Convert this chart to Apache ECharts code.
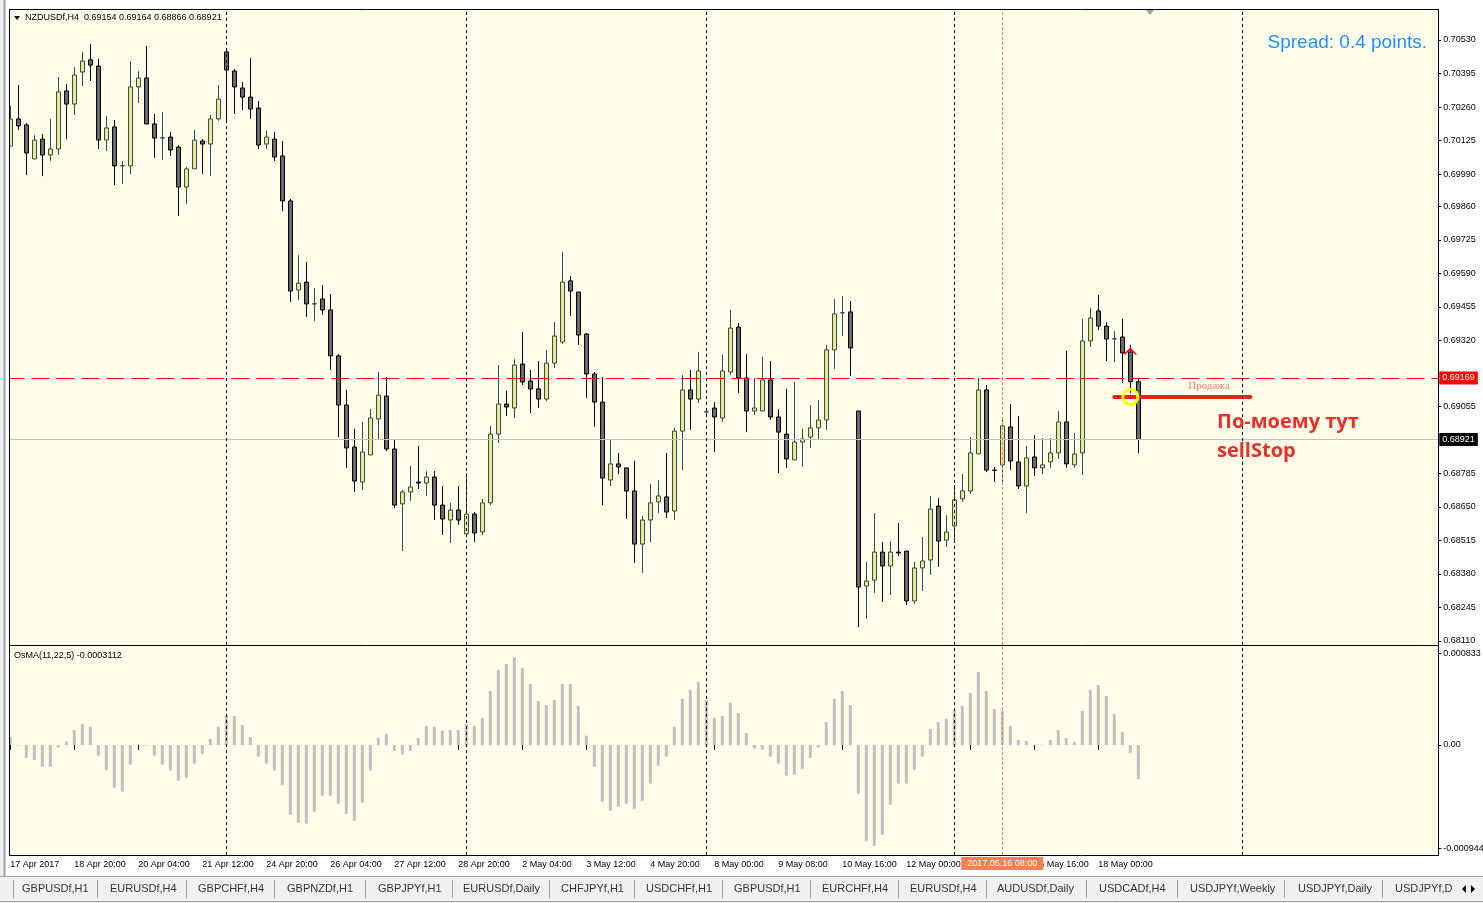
<!DOCTYPE html>
<html>
<head>
<meta charset="utf-8">
<title>NZDUSDf,H4</title>
<script src="https://cdn.jsdelivr.net/npm/echarts@6/dist/echarts.min.js"></script>
<style>
html, body { margin: 0; padding: 0; background: #fff; }
#chart { width: 1483px; height: 903px; }
</style>
</head>
<body>
<div id="chart"></div>
<script>
// NZDUSDf H4 bars, 17 Apr 2017 12:00 .. 18 May 2017
const open = [0.70103, 0.70212, 0.70188, 0.70051, 0.70131, 0.70067, 0.70091, 0.70325, 0.70272, 0.70401,
  0.70450, 0.70425, 0.70127, 0.70180, 0.70023, 0.70023, 0.70341, 0.70377, 0.70192, 0.70135,
  0.70139, 0.70099, 0.69938, 0.70011, 0.70123, 0.70111, 0.70212, 0.70482, 0.70405, 0.70337,
  0.70300, 0.70256, 0.70111, 0.70131, 0.70063, 0.69882, 0.69523, 0.69555, 0.69467, 0.69487,
  0.69443, 0.69258, 0.69060, 0.68891, 0.68750, 0.68859, 0.69004, 0.69096, 0.68883, 0.68662,
  0.68710, 0.68750, 0.68746, 0.68770, 0.68657, 0.68597, 0.68637, 0.68541, 0.68621, 0.68549,
  0.68666, 0.68943, 0.69064, 0.69048, 0.69225, 0.69157, 0.69125, 0.69084, 0.69229, 0.69314,
  0.69560, 0.69515, 0.69346, 0.69185, 0.69072, 0.68758, 0.68823, 0.68807, 0.68714, 0.68500,
  0.68597, 0.68670, 0.68690, 0.68633, 0.68955, 0.69121, 0.69084, 0.69032, 0.69048, 0.69008,
  0.69193, 0.69374, 0.69169, 0.69036, 0.69036, 0.69161, 0.69012, 0.68943, 0.68839, 0.68911,
  0.68931, 0.68968, 0.69000, 0.69282, 0.69431, 0.69435, 0.69036, 0.68331, 0.68355, 0.68468,
  0.68412, 0.68468, 0.68472, 0.68271, 0.68404, 0.68436, 0.68653, 0.68516, 0.68573, 0.68682,
  0.68714, 0.68863, 0.69121, 0.68798, 0.68819, 0.68972, 0.68831, 0.68734, 0.68851, 0.68807,
  0.68831, 0.68867, 0.68992, 0.68819, 0.68867, 0.69318, 0.69439, 0.69378, 0.69326, 0.69334,
  0.69274, 0.69154];
const high = [0.70264, 0.70349, 0.70196, 0.70147, 0.70151, 0.70212, 0.70381, 0.70353, 0.70421, 0.70482,
  0.70514, 0.70454, 0.70224, 0.70208, 0.70043, 0.70445, 0.70405, 0.70506, 0.70232, 0.70240,
  0.70160, 0.70107, 0.70019, 0.70168, 0.70131, 0.70228, 0.70349, 0.70498, 0.70413, 0.70361,
  0.70458, 0.70284, 0.70164, 0.70160, 0.70123, 0.69890, 0.69664, 0.69636, 0.69531, 0.69543,
  0.69507, 0.69266, 0.69121, 0.68964, 0.68992, 0.69044, 0.69193, 0.69173, 0.68919, 0.68718,
  0.68815, 0.68895, 0.68794, 0.68794, 0.68734, 0.68666, 0.68734, 0.68786, 0.68629, 0.68682,
  0.68976, 0.69221, 0.69117, 0.69245, 0.69354, 0.69201, 0.69237, 0.69282, 0.69394, 0.69676,
  0.69580, 0.69515, 0.69350, 0.69193, 0.69173, 0.68923, 0.68867, 0.68807, 0.68835, 0.68613,
  0.68742, 0.68758, 0.68867, 0.68968, 0.69181, 0.69201, 0.69274, 0.69040, 0.69072, 0.69262,
  0.69443, 0.69390, 0.69266, 0.69169, 0.69254, 0.69237, 0.69044, 0.69125, 0.69153, 0.68964,
  0.69060, 0.69080, 0.69302, 0.69487, 0.69499, 0.69479, 0.69036, 0.68428, 0.68625, 0.68508,
  0.68512, 0.68585, 0.68472, 0.68428, 0.68529, 0.68694, 0.68686, 0.68617, 0.68738, 0.68782,
  0.68931, 0.69169, 0.69141, 0.68811, 0.69012, 0.69064, 0.69016, 0.68895, 0.68939, 0.68927,
  0.68927, 0.69036, 0.69278, 0.68947, 0.69407, 0.69451, 0.69503, 0.69394, 0.69358, 0.69407,
  0.69302, 0.69164];
const low = [0.70103, 0.70168, 0.69986, 0.70051, 0.69982, 0.70043, 0.70067, 0.70131, 0.70228, 0.70345,
  0.70365, 0.70091, 0.70083, 0.69946, 0.69950, 0.69990, 0.70276, 0.70192, 0.70055, 0.70047,
  0.70063, 0.69821, 0.69870, 0.70011, 0.69990, 0.69982, 0.70204, 0.70204, 0.70232, 0.70248,
  0.70212, 0.70091, 0.70091, 0.70043, 0.69841, 0.69475, 0.69483, 0.69415, 0.69398, 0.69423,
  0.69201, 0.68931, 0.68807, 0.68710, 0.68718, 0.68859, 0.68923, 0.68875, 0.68645, 0.68472,
  0.68674, 0.68722, 0.68694, 0.68597, 0.68537, 0.68504, 0.68577, 0.68537, 0.68508, 0.68537,
  0.68657, 0.68907, 0.69016, 0.69008, 0.69141, 0.69028, 0.69048, 0.69076, 0.69209, 0.69306,
  0.69419, 0.69302, 0.69088, 0.68972, 0.68657, 0.68734, 0.68782, 0.68601, 0.68424, 0.68384,
  0.68508, 0.68625, 0.68605, 0.68597, 0.68798, 0.68960, 0.69068, 0.69024, 0.68871, 0.68992,
  0.69181, 0.69109, 0.68951, 0.69020, 0.69036, 0.69000, 0.68786, 0.68807, 0.68839, 0.68811,
  0.68887, 0.68923, 0.68960, 0.69205, 0.69338, 0.69177, 0.68166, 0.68198, 0.68303, 0.68267,
  0.68295, 0.68452, 0.68255, 0.68259, 0.68311, 0.68376, 0.68408, 0.68488, 0.68508, 0.68670,
  0.68702, 0.68863, 0.68790, 0.68750, 0.68750, 0.68798, 0.68722, 0.68625, 0.68774, 0.68782,
  0.68807, 0.68843, 0.68807, 0.68807, 0.68778, 0.69294, 0.69362, 0.69237, 0.69233, 0.69149,
  0.69109, 0.68866];
const close = [0.70212, 0.70184, 0.70075, 0.70127, 0.70067, 0.70091, 0.70321, 0.70272, 0.70389, 0.70445,
  0.70429, 0.70127, 0.70176, 0.70023, 0.70024, 0.70341, 0.70377, 0.70192, 0.70135, 0.70136,
  0.70087, 0.69938, 0.70011, 0.70127, 0.70111, 0.70212, 0.70292, 0.70409, 0.70341, 0.70300,
  0.70252, 0.70107, 0.70139, 0.70059, 0.69882, 0.69519, 0.69551, 0.69467, 0.69468, 0.69443,
  0.69258, 0.69060, 0.68887, 0.68754, 0.68871, 0.69008, 0.69100, 0.68883, 0.68657, 0.68710,
  0.68730, 0.68746, 0.68770, 0.68657, 0.68601, 0.68637, 0.68597, 0.68621, 0.68545, 0.68666,
  0.68943, 0.69064, 0.69052, 0.69221, 0.69153, 0.69125, 0.69084, 0.69229, 0.69338, 0.69555,
  0.69519, 0.69342, 0.69185, 0.69072, 0.68766, 0.68823, 0.68811, 0.68714, 0.68500, 0.68597,
  0.68666, 0.68694, 0.68629, 0.68955, 0.69121, 0.69084, 0.69197, 0.69033, 0.69012, 0.69197,
  0.69370, 0.69169, 0.69036, 0.69048, 0.69161, 0.69012, 0.68951, 0.68843, 0.68911, 0.68923,
  0.68968, 0.69000, 0.69282, 0.69427, 0.69432, 0.69290, 0.68327, 0.68351, 0.68468, 0.68412,
  0.68468, 0.68464, 0.68271, 0.68404, 0.68432, 0.68641, 0.68512, 0.68549, 0.68678, 0.68714,
  0.68867, 0.69121, 0.68798, 0.68797, 0.68976, 0.68835, 0.68734, 0.68847, 0.68807, 0.68819,
  0.68867, 0.68992, 0.68823, 0.68863, 0.69318, 0.69411, 0.69378, 0.69326, 0.69327, 0.69270,
  0.69154, 0.68921];
// OsMA(11,22,5) histogram
const osma = [0.000073, -0.000006, -0.000116, -0.000137, -0.000198, -0.000198, -0.000024, 0.000033, 0.000137, 0.000192,
  0.000164, -0.000097, -0.000228, -0.000389, -0.000426, -0.000179, 0.000006, -0.000006, -0.000097, -0.000179,
  -0.000234, -0.000325, -0.000298, -0.000170, -0.000082, 0.000055, 0.000164, 0.000271, 0.000264, 0.000182,
  0.000073, -0.000106, -0.000170, -0.000234, -0.000362, -0.000635, -0.000708, -0.000717, -0.000608, -0.000462,
  -0.000462, -0.000535, -0.000626, -0.000690, -0.000526, -0.000234, 0.000067, 0.000100, -0.000055, -0.000088,
  -0.000052, 0.000064, 0.000173, 0.000164, 0.000128, 0.000137, 0.000137, 0.000192, 0.000173, 0.000246,
  0.000492, 0.000684, 0.000739, 0.000800, 0.000702, 0.000556, 0.000401, 0.000365, 0.000410, 0.000556,
  0.000556, 0.000356, 0.000085, -0.000198, -0.000517, -0.000599, -0.000562, -0.000535, -0.000581, -0.000508,
  -0.000353, -0.000188, -0.000106, 0.000164, 0.000420, 0.000502, 0.000575, 0.000410, 0.000246, 0.000264,
  0.000383, 0.000292, 0.000109, -0.000033, -0.000043, -0.000106, -0.000170, -0.000280, -0.000271, -0.000216,
  -0.000116, -0.000024, 0.000210, 0.000420, 0.000492, 0.000365, -0.000444, -0.000872, -0.000918, -0.000818,
  -0.000544, -0.000353, -0.000353, -0.000225, -0.000106, 0.000146, 0.000210, 0.000237, 0.000319, 0.000356,
  0.000474, 0.000666, 0.000492, 0.000328, 0.000310, 0.000173, 0.000046, 0.000036, -0.000003, 0.000003,
  0.000046, 0.000137, 0.000064, 0.000027, 0.000310, 0.000502, 0.000547, 0.000447, 0.000283, 0.000119,
  -0.000070, -0.0003112];

const priceTicks = [0.70530, 0.70395, 0.70260, 0.70125, 0.69990, 0.69860, 0.69725, 0.69590, 0.69455,
  0.69320, 0.69055, 0.68785, 0.68650, 0.68515, 0.68380, 0.68245, 0.68110];
const osmaTicks = [0.000833, 0, -0.000944];
const timeTickIdx = [0, 8, 16, 24, 32, 40, 48, 56, 64, 72, 80, 88, 96, 104, 112, 120, 128, 136];
const timeTickText = ['17 Apr 2017', '18 Apr 20:00', '20 Apr 04:00', '21 Apr 12:00', '24 Apr 20:00',
  '26 Apr 04:00', '27 Apr 12:00', '28 Apr 20:00', '2 May 04:00', '3 May 12:00', '4 May 20:00',
  '8 May 00:00', '9 May 08:00', '10 May 16:00', '12 May 00:00', '15 May 08:00', '16 May 16:00', '18 May 00:00'];
const weekSeparators = [27, 57, 87, 118, 154];
const vlineIdx = 124;
const vlineText = '2017.05.16 08:00';
const sellLevel = 0.69169;
const bid = 0.68921;
const sellStop = 0.69092;
const tabNames = ['GBPUSDf,H1', 'EURUSDf,H4', 'GBPCHFf,H4', 'GBPNZDf,H1', 'GBPJPYf,H1', 'EURUSDf,Daily',
  'CHFJPYf,H1', 'USDCHFf,H1', 'GBPUSDf,H1', 'EURCHFf,H4', 'EURUSDf,H4', 'AUDUSDf,Daily', 'USDCADf,H4',
  'USDJPYf,Weekly', 'USDJPYf,Daily', 'USDJPYf,Daily'];
const tabX = [22, 110, 198, 287, 378, 463, 561, 646, 734, 822, 910, 997, 1099, 1190, 1298, 1395];
const tabSep = [13, 97, 186, 274, 365, 452, 549, 634, 722, 810, 898, 986, 1086, 1177, 1284, 1382];

const N = 179; // visible bar slots incl. chart shift
const cats = Array.from({ length: N }, (_, i) => i);
const last = close.length - 1;
const FONT = 'Liberation Sans';

const myChart = echarts.init(document.getElementById('chart'));

const sepLines = (withLabel) => weekSeparators.map(i => ({
  xAxis: i, lineStyle: { color: '#000', type: [3, 3], width: 1 }, label: { show: false }
})).concat([{
  xAxis: vlineIdx,
  lineStyle: { color: '#FA8060', type: [3, 2], width: 1 },
  label: withLabel ? {
    show: true, position: 'start', formatter: vlineText, color: '#fff', backgroundColor: '#F08055',
    fontSize: 9, fontFamily: FONT, padding: [2, 6], distance: 2
  } : { show: false }
}]);

const graphics = [];
// panel backgrounds
graphics.push({ type: 'rect', z: -5, shape: { x: 9, y: 9, width: 1429, height: 846 }, style: { fill: '#FFFDE9' } });
// bottom tab bar
graphics.push({ type: 'rect', z: 50, shape: { x: 0, y: 876, width: 1483, height: 27 }, style: { fill: '#F0F0F0' } });
graphics.push({ type: 'line', z: 51, shape: { x1: 0, y1: 876.5, x2: 1483, y2: 876.5 }, style: { stroke: '#A0A0A0', lineWidth: 1 } });
graphics.push({ type: 'line', z: 51, shape: { x1: 0, y1: 901.5, x2: 1483, y2: 901.5 }, style: { stroke: '#A0A0A0', lineWidth: 1 } });
tabSep.forEach(x => graphics.push({ type: 'line', z: 51, shape: { x1: x + 0.5, y1: 880, x2: x + 0.5, y2: 898 }, style: { stroke: '#A0A0A0', lineWidth: 1 } }));
tabNames.forEach((t, i) => graphics.push({ type: 'text', z: 52, x: tabX[i], y: 889,
  style: { text: t, font: '11px "Liberation Sans"', fill: '#333', verticalAlign: 'middle' } }));
graphics.push({ type: 'rect', z: 53, shape: { x: 1453, y: 878, width: 30, height: 23 }, style: { fill: '#F0F0F0' } });
graphics.push({ type: 'polygon', z: 54, shape: { points: [[1466, 885], [1466, 893], [1462, 889]] }, style: { fill: '#000' } });
graphics.push({ type: 'polygon', z: 54, shape: { points: [[1471, 885], [1471, 893], [1475, 889]] }, style: { fill: '#000' } });
// left window frame
graphics.push({ type: 'rect', z: 50, shape: { x: 0, y: 0, width: 9, height: 876 }, style: { fill: '#F0F0F0' } });
graphics.push({ type: 'line', z: 51, shape: { x1: 4.5, y1: 0, x2: 4.5, y2: 876 }, style: { stroke: '#A0A0A0', lineWidth: 2 } });
graphics.push({ type: 'rect', z: 51, shape: { x: 6, y: 0, width: 3, height: 876 }, style: { fill: '#fff' } });
// panel borders
[[9, 9.5, 1439, 9.5], [9.5, 9, 9.5, 856], [1438.5, 9, 1438.5, 856], [9, 645.5, 1439, 645.5], [9, 855.5, 1439, 855.5]]
  .forEach(l => graphics.push({ type: 'line', z: 52, shape: { x1: l[0], y1: l[1], x2: l[2], y2: l[3] }, style: { stroke: '#000', lineWidth: 1 } }));
// chart shift marker
graphics.push({ type: 'polygon', z: 52, shape: { points: [[1146, 10], [1154, 10], [1150, 15]] }, style: { fill: '#A0A0A0' } });
// titles
graphics.push({ type: 'polygon', z: 52, shape: { points: [[14, 16], [20, 16], [17, 20]] }, style: { fill: '#000' } });
graphics.push({ type: 'text', z: 52, x: 25, y: 18, style: {
  text: 'NZDUSDf,H4  ' + [open[last], high[last], low[last], close[last]].map(v => v.toFixed(5)).join(' '),
  font: '9px "Liberation Sans"', fill: '#000', verticalAlign: 'middle' } });
graphics.push({ type: 'text', z: 52, x: 14, y: 656, style: {
  text: 'OsMA(11,22,5) ' + osma[last].toFixed(7), font: '9px "Liberation Sans"', fill: '#000', verticalAlign: 'middle' } });
graphics.push({ type: 'text', z: 52, x: 1427, y: 43, style: {
  text: 'Spread: 0.4 points.', font: '19px "Liberation Sans"', fill: '#1E90FF', align: 'right', verticalAlign: 'middle' } });
// annotation
graphics.push({ type: 'text', z: 52, x: 1209, y: 386, style: {
  text: 'Продажа', font: '11px "Liberation Serif"', fill: '#FA8072', align: 'center', verticalAlign: 'middle' } });
graphics.push({ type: 'text', z: 52, x: 1217, y: 422, style: {
  text: 'По-моему тут', font: 'bold 20px "Open Sans"', fill: '#E8302A', verticalAlign: 'middle' } });
graphics.push({ type: 'text', z: 52, x: 1217, y: 451, style: {
  text: 'sellStop', font: 'bold 20px "Open Sans"', fill: '#E8302A', verticalAlign: 'middle' } });

const option = {
  backgroundColor: '#fff',
  animation: false,
  grid: [
    { left: 6.3, top: 10, width: 1432, height: 635, show: false, containLabel: false, outerBoundsMode: 'none' },
    { left: 6.3, top: 646, width: 1432, height: 209, show: false, containLabel: false, outerBoundsMode: 'none' }
  ],
  xAxis: [
    { type: 'category', gridIndex: 0, data: cats, boundaryGap: true,
      axisLine: { show: false }, axisTick: { show: false }, axisLabel: { show: false }, splitLine: { show: false } },
    { type: 'category', gridIndex: 1, data: cats, boundaryGap: true, axisLine: { show: false },
      axisTick: { show: true, alignWithLabel: true, interval: (i) => timeTickIdx.includes(i), length: 5,
        lineStyle: { color: '#000' } },
      axisLabel: { show: true, interval: (i) => timeTickIdx.includes(i),
        formatter: (v) => timeTickText[timeTickIdx.indexOf(Number(v))],
        align: 'left', fontSize: 9, fontFamily: FONT, color: '#000', margin: 5, padding: [0, 0, 0, 0] },
      splitLine: { show: false } }
  ],
  yAxis: [
    { type: 'value', gridIndex: 0, position: 'right', min: 0.680937, max: 0.706508,
      splitLine: { show: false }, axisLine: { show: false },
      axisTick: { show: true, customValues: priceTicks, length: 3, lineStyle: { color: '#000' } },
      axisLabel: { customValues: priceTicks, formatter: v => v.toFixed(5), fontSize: 9, fontFamily: FONT,
        color: '#000', margin: 5 } },
    { type: 'value', gridIndex: 1, position: 'right', min: -0.001002, max: 0.000902,
      splitLine: { show: false }, axisLine: { show: false },
      axisTick: { show: true, customValues: osmaTicks, length: 3, lineStyle: { color: '#000' } },
      axisLabel: { customValues: osmaTicks, formatter: v => (v === 0 ? '0.00' : v.toFixed(6)), fontSize: 9,
        fontFamily: FONT, color: '#000', margin: 5 } }
  ],
  graphic: graphics,
  series: [
    {
      name: 'NZDUSDf,H4',
      type: 'candlestick',
      xAxisIndex: 0,
      yAxisIndex: 0,
      barWidth: 4,
      data: open.map((o, i) => [o, close[i], low[i], high[i]]),
      itemStyle: { color: '#F0E68C', color0: '#696969', borderColor: '#2F4F4F', borderColor0: '#000', borderWidth: 1 },
      markLine: {
        silent: true, symbol: ['none', 'none'], animation: false, precision: 6,
        label: { show: false },
        data: [
          { yAxis: sellLevel, lineStyle: { color: '#FF0000', type: [18, 7], width: 1 },
            label: { show: true, position: 'end', formatter: sellLevel.toFixed(5), color: '#fff', backgroundColor: '#FF0000',
              fontSize: 9, fontFamily: FONT, padding: [2, 3], distance: 1 } },
          { yAxis: bid, lineStyle: { color: '#C0C0C0', type: 'solid', width: 1 },
            label: { show: true, position: 'end', formatter: bid.toFixed(5), color: '#fff', backgroundColor: '#000',
              fontSize: 9, fontFamily: FONT, padding: [2, 3], distance: 1 } },
          [
            { coord: [138, sellStop], lineStyle: { color: '#E8201A', width: 4, type: 'solid', cap: 'round' } },
            { coord: [155, sellStop], lineStyle: { color: '#E8201A', width: 4, type: 'solid', cap: 'round' } }
          ]
        ].concat(sepLines(false))
      },
      markPoint: {
        silent: true, animation: false, label: { show: false },
        data: [
          { coord: [140, sellStop], symbol: 'circle', symbolSize: 15,
            itemStyle: { color: 'rgba(0,0,0,0)', borderColor: '#FFFF00', borderWidth: 3 } },
          { coord: [140, high[140]], symbol: 'path://M0,7 L7,0 L14,7 L12,7 L7,2.5 L2,7 Z', symbolSize: [14, 7],
            symbolOffset: [0, 6], itemStyle: { color: '#FF0000' } }
        ]
      }
    },
    {
      name: 'OsMA',
      type: 'bar',
      xAxisIndex: 1,
      yAxisIndex: 1,
      barWidth: 3,
      data: osma,
      itemStyle: { color: '#C0C0C0' },
      markLine: {
        silent: true, symbol: ['none', 'none'], animation: false,
        label: { show: false },
        data: sepLines(true)
      }
    }
  ]
};

myChart.setOption(option);
window.addEventListener('resize', function() {
  myChart.resize();
});
</script>
</body>
</html>
